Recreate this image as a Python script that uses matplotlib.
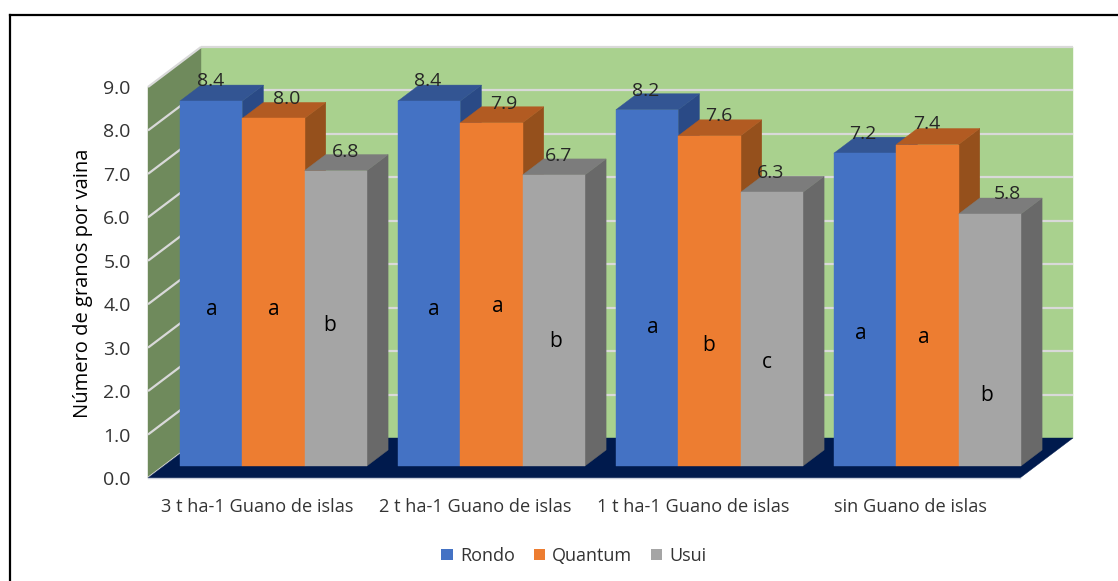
#!/usr/bin/env python3
import matplotlib
matplotlib.use('Agg')
import matplotlib.pyplot as plt
from matplotlib.lines import Line2D
from matplotlib.patches import Patch, Polygon

plt.rcParams['font.family'] = ['Open Sans', 'DejaVu Sans']

categories = ['3 t ha-1 Guano de islas', '2 t ha-1 Guano de islas',
              '1 t ha-1 Guano de islas', 'sin Guano de islas']
varieties = ['Rondo', 'Quantum', 'Usui']
rondo = [8.4, 8.4, 8.2, 7.2]
quantum = [8.0, 7.9, 7.6, 7.4]
usui = [6.8, 6.7, 6.3, 5.8]
letters_rondo = ['a', 'a', 'a', 'a']
letters_quantum = ['a', 'a', 'b', 'a']
letters_usui = ['b', 'b', 'c', 'b']
y_ticks = [0, 1, 2, 3, 4, 5, 6, 7, 8, 9]

# fake 3d: how far the back of the box is shifted from the front
DEPTH_X = 53 / 218
DEPTH_Y = 40 / 43.44
BAR_W = 62.33 / 218
GAP = 16 / 218
Z_FRONT = 0.3
Z_BACK = 0.7

# colors: front, top, side
colors = [('#4472C4', '#335593', '#2A4A86'),
          ('#ED7D31', '#B25B22', '#95501C'),
          ('#A5A5A5', '#7C7C7C', '#696969')]
GRID = '#D9D9D9'

# label tweaks in pixels (x shift from bar centre, y shift from bar top)
value_shift = [[(0, 20), (13, 19), (10, 19)],
               [(-1, 20), (12, 19), (5, 19)],
               [(-1, 19), (9, 20), (-1, 19)],
               [(-2, 19), (-1, 21), (18, 20)]]
# height of the significance letters, in axis units above the floor
letter_y = [[3.88, 3.88, 3.51],
            [3.88, 3.95, 3.15],
            [3.47, 3.05, 2.66],
            [3.33, 3.24, 1.90]]
letter_shift = [[1, 0, -6], [5, 6, 2], [6, -1, -5], [-4, -4, -3]]


def pt(x, y, z):
    return (x + z * DEPTH_X, y + z * DEPTH_Y)


def face(ax, pts, color, zorder):
    ax.add_patch(Polygon(pts, closed=True, facecolor=color, edgecolor=color,
                         linewidth=0.3, clip_on=False, zorder=zorder))


fig = plt.figure(figsize=(11.18, 5.81), dpi=100)
ax = fig.add_axes([148 / 1118, (581 - 478) / 581, 872 / 1118, 391 / 581])
ax.set_xlim(0, 4)
ax.set_ylim(0, 9)
ax.patch.set_visible(False)
for s in ax.spines.values():
    s.set_visible(False)

# walls and floor
face(ax, [pt(0, 0, 1), pt(4, 0, 1), pt(4, 9, 1), pt(0, 9, 1)], '#A9D18E', 1)
face(ax, [pt(0, 0, 0), pt(0, 0, 1), pt(0, 9, 1), pt(0, 9, 0)], '#6F8A5C', 1)
face(ax, [pt(0, 0, 0), pt(4, 0, 0), pt(4, 0, 1), pt(0, 0, 1)], '#001A4D', 2)

for t in y_ticks:
    x0, y0 = pt(0, t, 0)
    x1, y1 = pt(0, t, 1)
    x2, y2 = pt(4, t, 1)
    ax.plot([x0, x1], [y0, y1], color=GRID, lw=1.6, clip_on=False, zorder=1.5,
            solid_capstyle='butt')
    if t > 0:
        ax.plot([x1, x2], [y1, y2], color=GRID, lw=1.6, clip_on=False,
                zorder=1.5, solid_capstyle='butt')
ax.plot([0, 3 + 1], [0, 0], color='#C9CFDC', lw=1, clip_on=False, zorder=2.5)

# bars
series = [rondo, quantum, usui]
letters = [letters_rondo, letters_quantum, letters_usui]
order = 3
for i in range(len(categories)):
    for j, vals in enumerate(series):
        v = vals[i]
        x0 = i + GAP + j * BAR_W
        x1 = x0 + BAR_W
        front, top, side = colors[j]
        face(ax, [pt(x1, 0, Z_FRONT), pt(x1, 0, Z_BACK), pt(x1, v, Z_BACK),
                  pt(x1, v, Z_FRONT)], side, order)
        face(ax, [pt(x0, v, Z_FRONT), pt(x1, v, Z_FRONT), pt(x1, v, Z_BACK),
                  pt(x0, v, Z_BACK)], top, order)
        face(ax, [pt(x0, 0, Z_FRONT), pt(x1, 0, Z_FRONT), pt(x1, v, Z_FRONT),
                  pt(x0, v, Z_FRONT)], front, order + 0.1)
        order += 0.2

        cx, cy = pt((x0 + x1) / 2, v, Z_FRONT)
        sx, sy = value_shift[i][j]
        # px to pt at dpi 100
        ax.annotate('%.1f' % v, (cx, cy), xytext=(sx * 0.72, sy * 0.72),
                    textcoords='offset points', ha='center', va='center',
                    fontsize=14, color='#262626', zorder=20)
        ax.annotate(letters[j][i], (cx, letter_y[i][j]),
                    xytext=(letter_shift[i][j] * 0.72, 0),
                    textcoords='offset points', ha='center', va='center',
                    fontsize=15, color='black', zorder=20)

ax.set_yticks(y_ticks)
ax.set_yticklabels(['%.1f' % t for t in y_ticks], fontsize=14, color='#333333')
ax.set_xticks([i + 0.5 for i in range(len(categories))])
ax.set_xticklabels(categories, fontsize=13.1, color='#333333')
ax.tick_params(axis='both', length=0)
ax.tick_params(axis='y', pad=12.5)
ax.tick_params(axis='x', pad=14.5)
ax.grid(False)

fig.text(83 / 1118, 1 - 283 / 581, 'Número de granos por vaina', rotation=90,
         ha='center', va='center', fontsize=14.5, color='black')

handles = [Patch(facecolor=colors[k][0], label=varieties[k]) for k in range(3)]
fig.legend(handles=handles, loc='center', bbox_to_anchor=(574 / 1118, 1 - 556 / 581),
           ncol=3, frameon=False, fontsize=13, handlelength=0.62, handleheight=0.62,
           handletextpad=0.4, columnspacing=1.05, labelcolor='#333333')

# outer frame, only top and left
fig.add_artist(Line2D([10 / 1118, 10 / 1118], [0, 1 - 15 / 581], color='black', lw=1.6))
fig.add_artist(Line2D([10 / 1118, 1], [1 - 15 / 581, 1 - 15 / 581], color='black', lw=1.6))

fig.savefig('out.png', dpi=100, facecolor='white')
